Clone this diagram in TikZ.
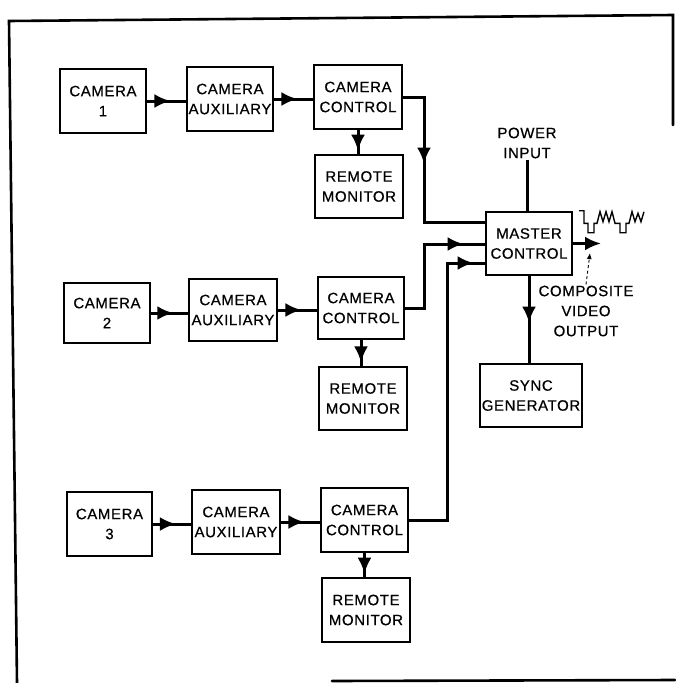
\documentclass[tikz,border=0pt]{standalone}
\usepackage{fontspec}
\setmainfont[LetterSpace=4,FakeBold=0.6]{Liberation Sans}
\usetikzlibrary{arrows.meta,decorations.markings}
\tikzset{
  blk/.style={draw, line width=1.2pt, inner sep=0pt, align=center,
    font=\fontsize{15}{20}\selectfont},
  lbl/.style={inner sep=1pt, align=center, font=\fontsize{15}{20}\selectfont},
  conn/.style={line width=3pt},
  arrowat/.style={postaction={decorate,decoration={markings,
    mark=at position #1 with {\arrow{Latex[length=16pt,width=14pt]}}}}},
  frame/.style={line width=2.6pt, line cap=round},
}
\begin{document}
\begin{tikzpicture}[x=1pt,y=-1pt]
\useasboundingbox (0,0) rectangle (675,683);
% frame
\draw[frame] (17,683) -- (9,21) -- (673,15) -- (673,125);
\draw[frame] (332,681) -- (675,680);
% row 1
\node[blk, minimum width=86pt, minimum height=64pt] (cam1) at (103,101) {CAMERA\\1};
\node[blk, minimum width=86pt, minimum height=64pt] (aux1) at (230,99) {CAMERA\\AUXILIARY};
\node[blk, minimum width=88pt, minimum height=64pt] (ctl1) at (358,97) {CAMERA\\CONTROL};
\node[blk, minimum width=88pt, minimum height=63pt] (rem1) at (359,186.5) {REMOTE\\MONITOR};
% row 2
\node[blk, minimum width=86pt, minimum height=60pt] (cam2) at (107,313) {CAMERA\\2};
\node[blk, minimum width=88pt, minimum height=62pt] (aux2) at (233,310) {CAMERA\\AUXILIARY};
\node[blk, minimum width=86pt, minimum height=62pt] (ctl2) at (361,308) {CAMERA\\CONTROL};
\node[blk, minimum width=88pt, minimum height=63pt] (rem2) at (363,398.5) {REMOTE\\MONITOR};
% row 3
\node[blk, minimum width=85pt, minimum height=64pt] (cam3) at (109.5,524) {CAMERA\\3};
\node[blk, minimum width=88pt, minimum height=64pt] (aux3) at (236,522) {CAMERA\\AUXILIARY};
\node[blk, minimum width=87pt, minimum height=64pt] (ctl3) at (364.5,520) {CAMERA\\CONTROL};
\node[blk, minimum width=88pt, minimum height=64pt] (rem3) at (366,610) {REMOTE\\MONITOR};
% master and sync
\node[blk, minimum width=86pt, minimum height=63pt] (master) at (529,243.5) {MASTER\\CONTROL};
\node[blk, minimum width=102pt, minimum height=63pt] (sync) at (531,395.5) {SYNC\\GENERATOR};
\node[lbl] (pwr) at (527,143) {POWER\\INPUT};
\node[lbl] (comp) at (586,311) {COMPOSITE\\VIDEO\\OUTPUT};
% chain connectors
\draw[conn, arrowat=0.6] (cam1.east) -- (cam1.east -| aux1.west);
\draw[conn, arrowat=0.6] (aux1.east) -- (aux1.east -| ctl1.west);
\draw[conn, arrowat=0.85] (ctl1.south) -- (ctl1.south |- rem1.north);
\draw[conn, arrowat=0.6] (cam2.east) -- (cam2.east -| aux2.west);
\draw[conn, arrowat=0.6] (aux2.east) -- (aux2.east -| ctl2.west);
\draw[conn, arrowat=0.85] (ctl2.south) -- (ctl2.south |- rem2.north);
\draw[conn, arrowat=0.6] (cam3.east) -- (cam3.east -| aux3.west);
\draw[conn, arrowat=0.6] (aux3.east) -- (aux3.east -| ctl3.west);
\draw[conn, arrowat=0.85] (ctl3.south) -- (ctl3.south |- rem3.north);
% to master
\coordinate (j1) at (424,222);
\coordinate (j2) at (424,244);
\coordinate (j3) at (447,263);
\draw[conn, arrowat=88pt] (ctl1.east) -| (j1) -- (j1 -| master.west);
\draw[conn, arrowat=123pt] (ctl2.east) -| (j2) -- (j2 -| master.west);
\draw[conn, arrowat=322pt] (ctl3.east) -| (j3) -- (j3 -| master.west);
\draw[conn] (pwr.south) -- (pwr.south |- master.north);
\draw[conn, arrowat=47pt] (master.south) -- (master.south |- sync.north);
\coordinate (outend) at (601,243.5);
\draw[conn, -{Latex[length=16pt,width=14pt]}] (master.east) -- (outend);
\coordinate (outtip) at (590,253);
\draw[line width=0.9pt, dashed, dash pattern=on 3pt off 2.5pt, -{Latex[length=6pt,width=5pt]}] (comp.north) -- (outtip);
% waveform
\draw[line width=1.4pt, line join=miter]
  (579,210.7) -- (584,210.7) -- (584,223.3) -- (588,223.3) -- (588,232.7)
  -- (594,232.7) -- (594,223.3) -- (597,223.3) -- (600,211.7) -- (603,221.7)
  -- (606,211.7) -- (609,221.7) -- (612,211.7) -- (615,223.3) -- (620,223.3)
  -- (620,232.7) -- (626,232.7) -- (626,223.3) -- (629,223.3) -- (632,211.7)
  -- (635,221.7) -- (638,213.3) -- (641,221.7) -- (644,211.7);
\end{tikzpicture}
\end{document}
